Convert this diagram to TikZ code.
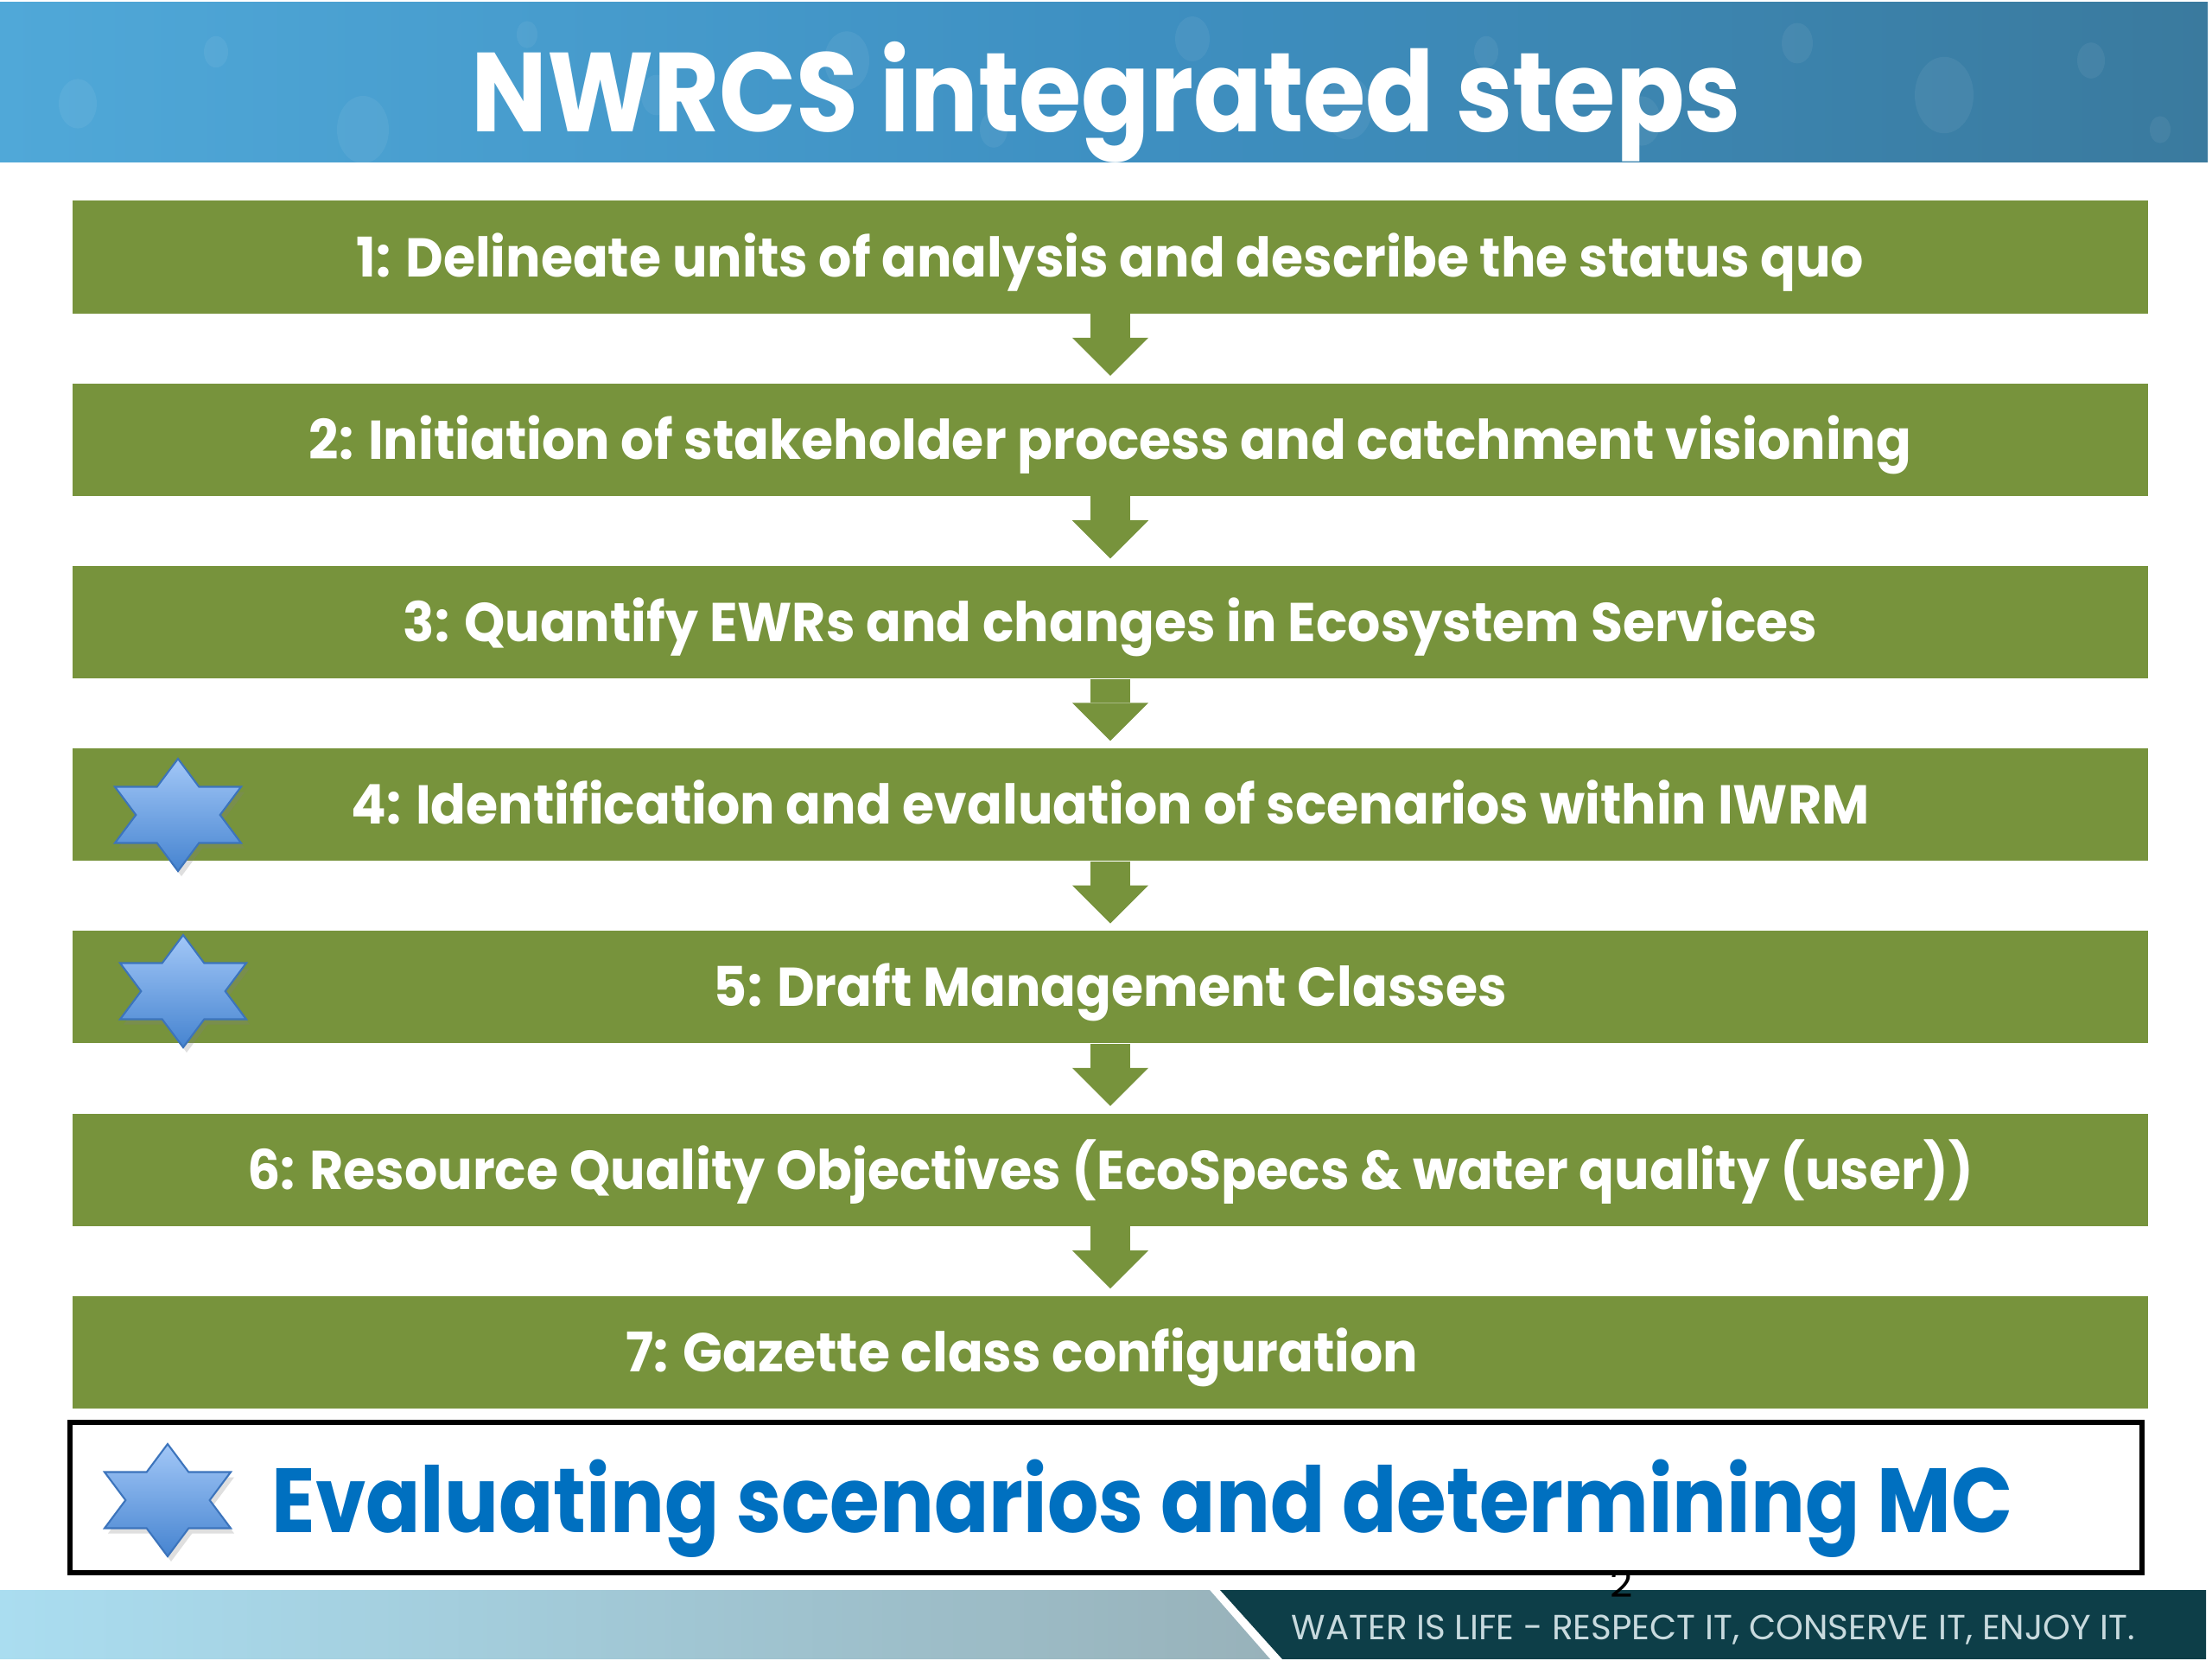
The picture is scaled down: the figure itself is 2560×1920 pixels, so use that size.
\documentclass[tikz,border=0pt]{standalone}
\usepackage{fontspec}
\setmainfont{Poppins}
\newfontfamily\gothic[FakeStretch=0.95]{Poppins}
\newfontfamily\titlegothic[FakeStretch=0.9]{Poppins}
\newfontfamily\evalgothic[FakeStretch=0.885]{Poppins}
\usepackage{tikz}
\usetikzlibrary{positioning,arrows.meta,shadows}

\definecolor{stepgreen}{RGB}{119,147,60}
\definecolor{evalblue}{RGB}{0,112,192}
\definecolor{footdark}{RGB}{13,62,72}
\definecolor{foottext}{RGB}{200,218,222}
\definecolor{footlight}{RGB}{170,221,240}
\definecolor{footgrey}{RGB}{152,178,186}
\definecolor{skyleft}{RGB}{80,168,216}
\definecolor{skymid}{RGB}{62,144,194}
\definecolor{skyright}{RGB}{58,122,158}
\definecolor{starlight}{RGB}{162,199,247}
\definecolor{stardark}{RGB}{70,132,208}
\definecolor{staredge}{RGB}{60,116,188}

\begin{document}
\begin{tikzpicture}[
    x=0.01cm, y=-0.01cm,
    stepbox/.style={fill=stepgreen, minimum width=24cm, minimum height=1.3cm, inner sep=0pt,
      text height=0.5cm, text depth=0.05cm,
      text=white, font=\gothic\bfseries\fontsize{18}{20}\selectfont},
    flow/.style={draw=stepgreen, line width=4.6mm,
      -{Triangle[length=4.4mm, width=8.8mm, line width=0pt]}, shorten >=0.8mm},
    hexstar/.pic={
      \shade[top color=starlight, bottom color=stardark, draw=staredge, line width=0.6pt,
        drop shadow={opacity=0.25, shadow xshift=0.4mm, shadow yshift=-0.6mm}]
        (0,-65) -- (24.3,-32.5) -- (73,-32.5) -- (48.7,0) -- (73,32.5) -- (24.3,32.5)
        -- (0,65) -- (-24.3,32.5) -- (-73,32.5) -- (-48.7,0) -- (-73,-32.5) -- (-24.3,-32.5) -- cycle;
    },
  ]
    \useasboundingbox (0,0) rectangle (2560,1920);
    \fill[white] (0,0) rectangle (2560,1920);

    % header band with drops
    \shade[left color=skyleft, right color=skyright, middle color=skymid] (0,2) rectangle (2555,187);
    \foreach \dx/\dy/\r in {90/120/22, 250/60/14, 420/150/30, 610/40/12, 760/110/18, 980/70/26,
                            1150/150/16, 1380/45/20, 1560/125/28, 1720/60/14, 1900/140/22,
                            2080/50/18, 2250/110/34, 2420/70/16, 2500/150/12}
      \fill[white, opacity=0.06] (\dx,\dy) ellipse ({\r} and {1.3*\r});
    \node[text=white, text height=1cm, text depth=0.09cm,
      font=\titlegothic\bfseries\fontsize{37}{40}\selectfont] (title) at (1280,107)
      {NWRCS integrated steps};

    % steps
    \node[stepbox] (s1) at (1285,297.5) {1: Delineate units of analysis and describe the status quo};
    \node[stepbox] (s2) at (1285,508.7) {2: Initiation of stakeholder process and catchment visioning};
    \node[stepbox] (s3) at (1285,720)   {3: Quantify EWRs and changes in Ecosystem Services};
    \node[stepbox] (s4) at (1285,931.2) {4: Identification and evaluation of scenarios within IWRM};
    \node[stepbox] (s5) at (1285,1142.4) {5: Draft Management Classes};
    \node[stepbox] (s6) at (1285,1353.6) {6: Resource Quality Objectives (EcoSpecs \& water quality (user))};
    \node[stepbox] (s7) at (1285,1564.8) {7: Gazette class configuration\hspace*{2.04cm}};

    \foreach \i [evaluate=\i as \j using int(\i+1)] in {1,...,6}
      \draw[flow] (s\i.south) -- (s\j.north);

    \pic at (206,943)  {hexstar};
    \pic at (212,1147) {hexstar};

    % footer
    \shade[left color=footlight, right color=footgrey]
      (0,1840) -- (1400,1840) -- (1470,1920) -- (0,1920) -- cycle;
    \fill[footdark] (1412,1840) -- (2553,1840) -- (2553,1920) -- (1484,1920) -- cycle;
    \node[text=foottext, text height=0.3cm, text depth=0.02cm,
      font=\fontsize{11.5}{13}\selectfont] (motto) at (1983,1883)
      {WATER IS LIFE - RESPECT IT, CONSERVE IT, ENJOY IT.};
    \node[font=\fontsize{13}{14}\selectfont] (pageno) at (1877,1832) {2};

    % summary box
    \node[draw=black, fill=white, line width=1.6pt, minimum width=23.97cm, minimum height=1.74cm,
      inner sep=0pt] (evalbox) at (1280,1733) {};
    \node[text=evalblue, text height=0.8cm, text depth=0.06cm,
      font=\evalgothic\bfseries\fontsize{30}{32}\selectfont] (evaltext) at (1322,1736)
      {Evaluating scenarios and determining MC};
    \pic at (194,1736) {hexstar};
  \end{tikzpicture}
\end{document}
